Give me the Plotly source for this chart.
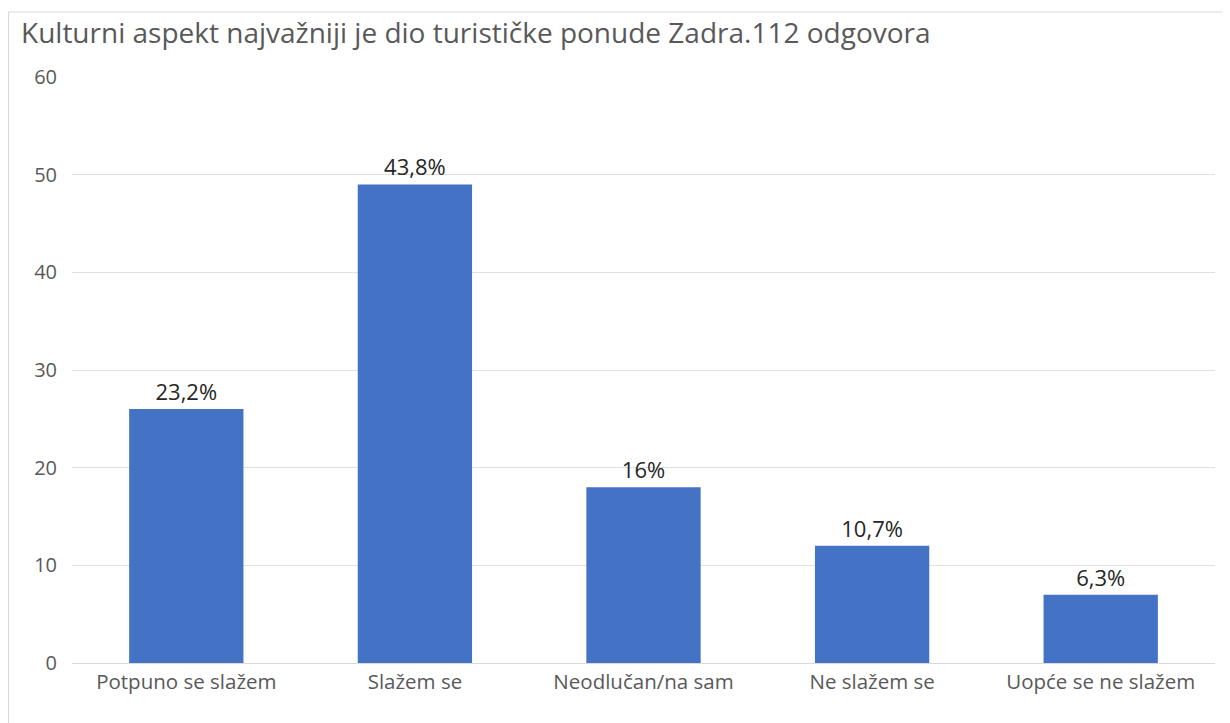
import plotly.graph_objects as go

categories = ["Potpuno se slažem", "Slažem se", "Neodlučan/na sam", "Ne slažem se", "Uopće se ne slažem"]
counts = [26, 49, 18, 12, 7]
percent_labels = ["23,2%", "43,8%", "16%", "10,7%", "6,3%"]
y_ticks = [0, 10, 20, 30, 40, 50, 60]

W, H = 1214, 715
L, R, T, B = 64, 7, 69, 60
pw, ph = W - L - R, H - T - B

fig = go.Figure(go.Bar(
    x=categories, y=counts, text=percent_labels,
    textposition="outside", cliponaxis=False,
    textfont=dict(size=22, color="#262626", family="Open Sans"),
    marker=dict(color="#4472C4", line=dict(width=0)),
))

fig.update_layout(
    width=W, height=H,
    margin=dict(l=L, r=R, t=T, b=B),
    paper_bgcolor="white", plot_bgcolor="white",
    bargap=0.5,
    showlegend=False,
    font=dict(family="Open Sans", color="#595959"),
    title=dict(
        text="Kulturni aspekt najvažniji je dio turističke ponude Zadra.112 odgovora",
        x=13 / W, xanchor="left", xref="container",
        y=1 - 25 / H, yanchor="middle", yref="container",
        font=dict(size=28, color="#595959", family="Open Sans"),
    ),
    xaxis=dict(
        showgrid=False, showline=True, linecolor="#D9D9D9", linewidth=1,
        ticks="", tickfont=dict(size=20.5, color="#595959"),
    ),
    yaxis=dict(
        range=[0, 60], tickvals=y_ticks, showgrid=True, gridcolor="#E0E0E0",
        gridwidth=1, zeroline=False, showline=False, ticks="",
        tickfont=dict(size=20, color="#595959"), ticklabelstandoff=14,
    ),
    shapes=[
        dict(type="line", xref="paper", yref="paper",
             x0=(0.5 - L) / pw, x1=(0.5 - L) / pw,
             y0=-B / ph, y1=(H - B - 4) / ph,
             line=dict(color="#D9D9D9", width=1), layer="below"),
        dict(type="line", xref="paper", yref="paper",
             x0=(0.5 - L) / pw, x1=(W - L) / pw,
             y0=(H - B - 4) / ph, y1=(H - B - 4) / ph,
             line=dict(color="#D9D9D9", width=1), layer="below"),
    ],
)

fig.write_html("out.html")
